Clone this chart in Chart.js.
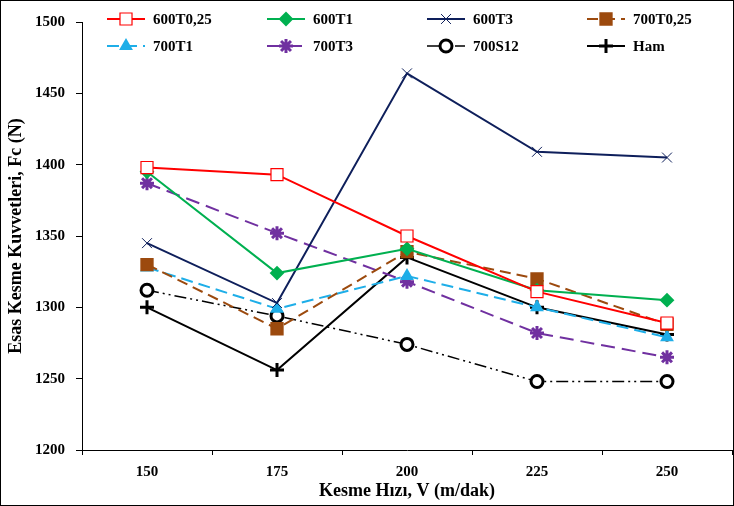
<!DOCTYPE html>
<html>
<head>
<meta charset="utf-8">
<script src="https://cdn.jsdelivr.net/npm/chart.js@4/dist/chart.umd.min.js"></script>
<style>
  html, body { margin:0; padding:0; background:#fff; }
  #wrap { width:734px; height:506px; }
</style>
</head>
<body>
<div id="wrap"><canvas id="grafik" width="734" height="506"></canvas></div>
<script>
// kesme hizlari (m/dak)
const hizlar = ['150','175','200','225','250'];

// kesme kuvvetleri Fc (N)
const s600T025 = [1398, 1393, 1350, 1311, 1289];
const s600T1   = [1395, 1324, 1341, 1312, 1305];
const s600T3   = [1345, 1303, 1464, 1409, 1405];
const s700T025 = [1330, 1285, 1339, 1320, 1288];
const s700T1   = [1328, 1299, 1322, 1300, 1279];
const s700T3   = [1387, 1352, 1318, 1282, 1265];
const s700S12  = [1312, 1294, 1274, 1248, 1248];
const sHam     = [1300, 1256, 1335, 1300, 1281];

const yMin = 1200, yMax = 1500, yStep = 50;

const serif = "'Liberation Serif', 'Times New Roman', serif";

function seri(label, data, color, style, opts){
  return Object.assign({
    label, data,
    borderColor: color,
    borderWidth: 2,
    pointStyle: style,
    pointRadius: 6,
    pointHoverRadius: 6,
    pointBorderColor: color,
    pointBackgroundColor: color,
    pointBorderWidth: 2,
    tension: 0,
    fill: false
  }, opts || {});
}

const datasets = [
  seri('600T0,25', s600T025, '#FF0000', 'rect', { pointBackgroundColor:'#fff', pointRadius:8.5, pointBorderWidth:1.2 }),
  seri('600T1',    s600T1,   '#00B050', 'rectRot', { pointRadius:6 }),
  seri('600T3',    s600T3,   '#0E1F5B', 'crossRot', { pointRadius:7, pointBorderWidth:1 }),
  seri('700T0,25', s700T025, '#9C4A0E', 'rect', { pointRadius:8, borderDash:[11,6] }),
  seri('700T1',    s700T1,   '#1EAEE8', 'triangle', { pointRadius:6, borderDash:[12,6] }),
  seri('700T3',    s700T3,   '#7030A0', 'star', { pointRadius:7, pointBorderWidth:3, borderDash:[14,7] }),
  seri('700S12',   s700S12,  '#000000', 'circle', { pointBackgroundColor:'#fff', pointRadius:6, pointBorderWidth:3, borderWidth:1.5, borderDash:[12,4,2,4,2,4] }),
  seri('Ham',      sHam,     '#000000', 'cross', { pointRadius:7, pointBorderWidth:3 })
];

// legend in a 4-column grid at the top of the plot
const izgaraLejant = {
  id: 'izgaraLejant',
  afterDraw(chart){
    const ctx = chart.ctx;
    ctx.save();
    chart.data.datasets.forEach((ds, i) => {
      const col = i % 4, row = Math.floor(i / 4);
      const x0 = 107 + col * 160;
      const y = 19 + row * 27;
      ctx.setLineDash(ds.borderDash || []);
      ctx.strokeStyle = ds.borderColor;
      ctx.lineWidth = ds.borderWidth;
      ctx.beginPath();
      ctx.moveTo(x0, y);
      ctx.lineTo(x0 + 38, y);
      ctx.stroke();
      ctx.setLineDash([]);
      ctx.fillStyle = ds.pointBackgroundColor;
      ctx.strokeStyle = ds.pointBorderColor;
      ctx.lineWidth = ds.pointBorderWidth;
      Chart.helpers.drawPoint(ctx, {
        pointStyle: ds.pointStyle,
        radius: ds.pointRadius,
        rotation: 0,
        borderWidth: ds.pointBorderWidth
      }, x0 + 19, y);
      ctx.fillStyle = '#000';
      ctx.font = 'bold 15px ' + serif;
      ctx.textBaseline = 'middle';
      ctx.textAlign = 'left';
      ctx.fillText(ds.label, x0 + 46, y + 1);
    });
    // frame round the picture
    ctx.strokeStyle = '#000';
    ctx.lineWidth = 1;
    ctx.strokeRect(0.5, 0.5, chart.width - 1, chart.height - 1);
    ctx.restore();
  }
};

const beyazZemin = {
  id: 'beyazZemin',
  beforeDraw(chart){
    const ctx = chart.ctx;
    ctx.save();
    ctx.fillStyle = '#fff';
    ctx.fillRect(0, 0, chart.width, chart.height);
    ctx.restore();
  }
};

new Chart(document.getElementById('grafik'), {
  type: 'line',
  data: { labels: hizlar, datasets },
  options: {
    responsive: false,
    animation: false,
    layout: { autoPadding: false, padding: { top: 22, right: 2, left: 0, bottom: 0 } },
    plugins: {
      legend: { display: false },
      tooltip: { enabled: false }
    },
    scales: {
      x: {
        type: 'category',
        offset: true,
        afterFit(scale){ scale.height = 56; },
        grid: { offset: true, drawOnChartArea: false, drawTicks: true, tickLength: 5, color: '#000' },
        border: { color: '#000', width: 1 },
        ticks: { color: '#000', padding: 8, font: { family: serif, size: 15, weight: 'bold' } },
        title: {
          display: true,
          text: 'Kesme Hızı, V (m/dak)',
          color: '#000',
          font: { family: serif, size: 18, weight: 'bold' },
          padding: { top: 0, bottom: 4 }
        }
      },
      y: {
        min: yMin,
        max: yMax,
        afterFit(scale){ scale.width = 82; },
        grid: { drawOnChartArea: false, drawTicks: true, tickLength: 6, color: '#000' },
        border: { color: '#000', width: 1 },
        ticks: {
          stepSize: yStep, color: '#000', padding: 11,
          font: { family: serif, size: 15, weight: 'bold' },
          callback: (v) => String(v)
        },
        title: {
          display: true,
          text: 'Esas Kesme Kuvvetleri, Fc (N)',
          color: '#000',
          font: { family: serif, size: 18, weight: 'bold' },
          padding: { top: 6, bottom: 0 }
        }
      }
    }
  },
  plugins: [beyazZemin, izgaraLejant]
});
</script>
</body>
</html>
